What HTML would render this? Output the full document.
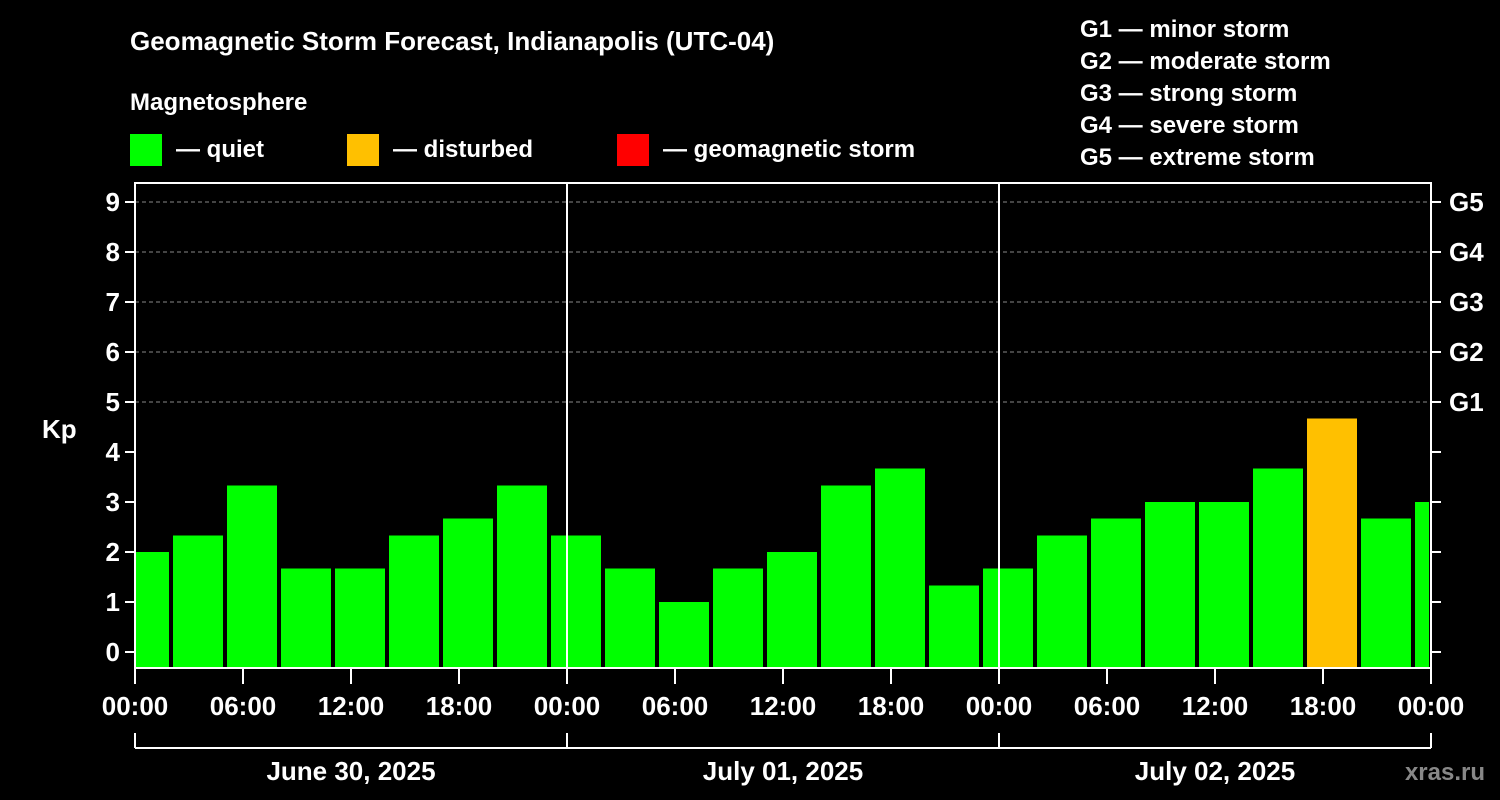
<!DOCTYPE html>
<html><head><meta charset="utf-8"><style>
body{margin:0;background:#000;width:1500px;height:800px;overflow:hidden}
svg{display:block;font-family:"Liberation Sans",sans-serif;font-weight:bold;fill:#fff}
</style></head><body>
<svg id="c" width="1500" height="800">
<text x="130" y="50" font-size="26">Geomagnetic Storm Forecast, Indianapolis (UTC-04)</text>
<text x="130" y="110" font-size="24">Magnetosphere</text>
<rect x="130" y="134" width="32" height="32" fill="#00ff00"/>
<text x="176" y="157" font-size="24">— quiet</text>
<rect x="347" y="134" width="32" height="32" fill="#ffc000"/>
<text x="393" y="157" font-size="24">— disturbed</text>
<rect x="617" y="134" width="32" height="32" fill="#ff0000"/>
<text x="663" y="157" font-size="24">— geomagnetic storm</text>
<g font-size="24">
<text x="1080" y="37">G1 — minor storm</text>
<text x="1080" y="69">G2 — moderate storm</text>
<text x="1080" y="101">G3 — strong storm</text>
<text x="1080" y="133">G4 — severe storm</text>
<text x="1080" y="165">G5 — extreme storm</text>
</g>
<text x="42" y="438" font-size="26">Kp</text>
<text x="1485" y="780" font-size="24" fill="#888" text-anchor="end" style="fill:#888">xras.ru</text>
<g id="plot"></g>
</svg>
<script>
const values=[2.0,2.33,3.33,1.67,1.67,2.33,2.67,3.33,2.33,1.67,1.0,1.67,2.0,3.33,3.67,1.33,1.67,2.33,2.67,3.0,3.0,3.67,4.67,2.67,3.0];
const binStartHour=-1, binHours=3;
const xTickLabels=["00:00","06:00","12:00","18:00","00:00","06:00","12:00","18:00","00:00","06:00","12:00","18:00","00:00"];
const dayLabels=["June 30, 2025","July 01, 2025","July 02, 2025"];
const gLabels=["G1","G2","G3","G4","G5"];
const X0=135,X1=1431,Y0=652,YB=668,YT=183;
const x=h=>X0+(X1-X0)*h/72;
const y=k=>Y0-50*k;
const NS="http://www.w3.org/2000/svg";
const g=document.getElementById('plot');
function el(t,a){const e=document.createElementNS(NS,t);for(const k in a)e.setAttribute(k,a[k]);g.appendChild(e);return e;}
values.forEach((v,i)=>{
 const h0=binStartHour+i*binHours;
 const a=Math.max(x(h0)+2,X0+1), b=Math.min(x(h0+binHours)-2,X1-2);
 const color=v>=5?'#ff0000':(v>=4?'#ffc000':'#00ff00');
 const r=el('rect',{x:a,y:y(v),width:b-a,height:YB-y(v),fill:color});
 
 
});
for(let k=5;k<=9;k++){
 const l=el('line',{x1:X0,x2:X1,y1:y(k),y2:y(k),stroke:'#888','stroke-dasharray':'4,3','stroke-width':1});
 
 
}
[24,48].forEach(h=>{
 const l=el('line',{x1:x(h),x2:x(h),y1:YT,y2:YB,stroke:'#fff','stroke-width':2});
 
 
});
const fr=el('rect',{x:X0,y:YT,width:X1-X0,height:YB-YT,fill:'none',stroke:'#fff','stroke-width':2});


for(let k=0;k<=9;k++){
 el('line',{x1:X0-10,x2:X0,y1:y(k),y2:y(k),stroke:'#fff','stroke-width':2});
 el('line',{x1:X1,x2:X1+10,y1:y(k),y2:y(k),stroke:'#fff','stroke-width':2});
 const t=el('text',{x:X0-15,y:y(k)+9,'font-size':26,'text-anchor':'end'});t.textContent=k;
 
 
}
gLabels.forEach((s,i)=>{
 const t=el('text',{x:X1+18,y:y(i+5)+9,'font-size':26});t.textContent=s;
 
 
});
xTickLabels.forEach((s,i)=>{
 const xx=x(i*6);
 el('line',{x1:xx,x2:xx,y1:YB,y2:YB+16,stroke:'#fff','stroke-width':2});
 const t=el('text',{x:xx,y:715,'font-size':26,'text-anchor':'middle'});t.textContent=s;
 
 
});
el('line',{x1:X0,x2:X1,y1:748,y2:748,stroke:'#fff','stroke-width':2});
[0,24,48,72].forEach(h=>el('line',{x1:x(h),x2:x(h),y1:733,y2:748,stroke:'#fff','stroke-width':2}));
dayLabels.forEach((s,i)=>{
 const t=el('text',{x:x(i*24+12),y:780,'font-size':26,'text-anchor':'middle'});t.textContent=s;
 
 
});
</script>
</body></html>
